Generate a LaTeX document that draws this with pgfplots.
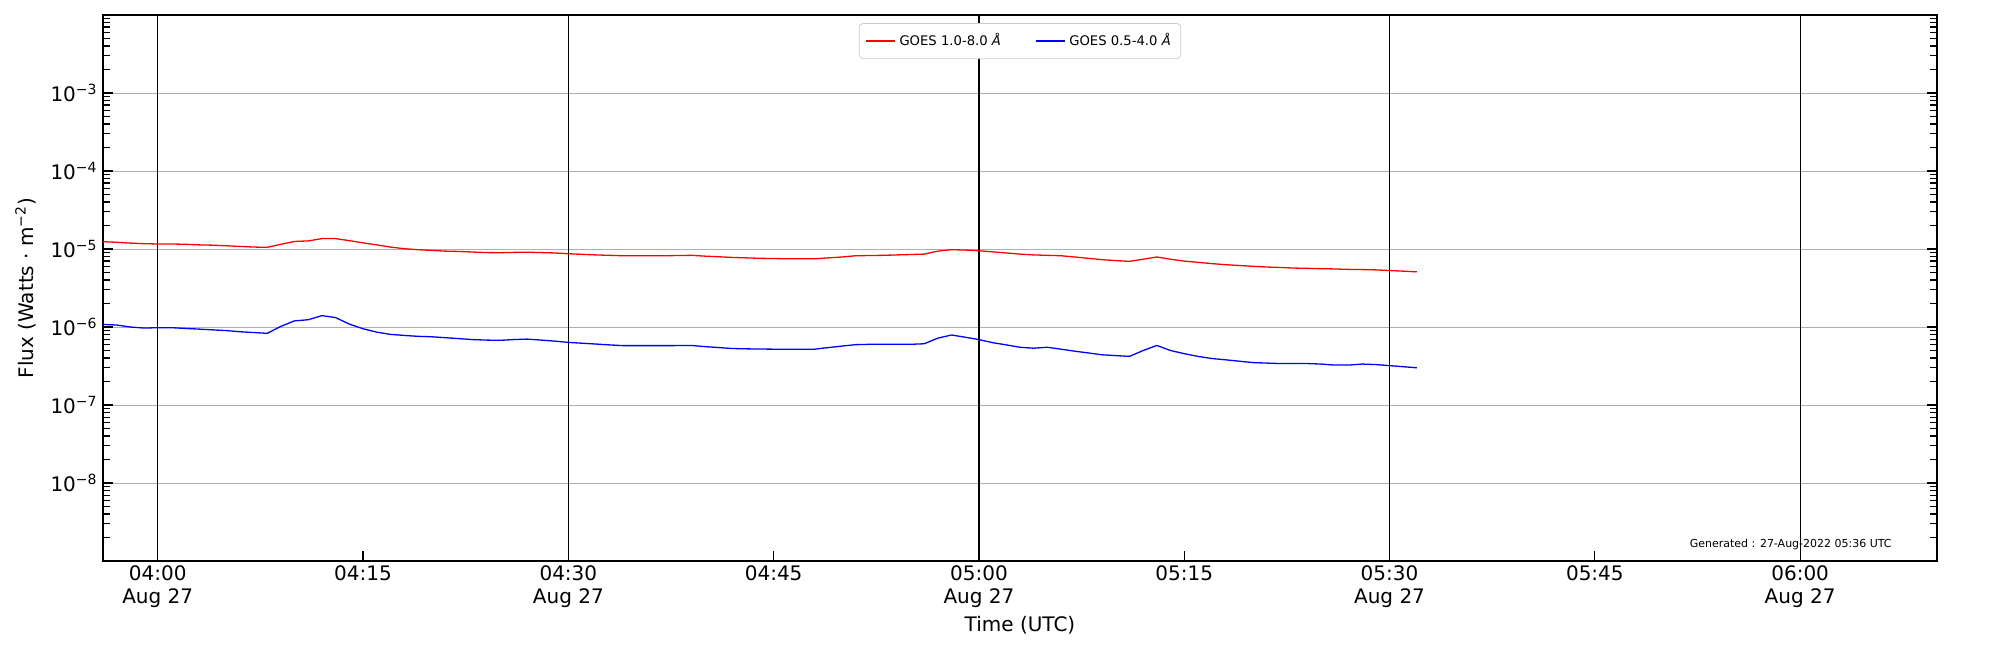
\documentclass[border=0pt]{standalone}
\usepackage{fontspec}
\setmainfont{DejaVu Sans}
\usepackage{pgfplots}
\pgfplotsset{compat=1.18}
\usepackage{pgfplotstable}
\definecolor{gridgray}{HTML}{B0B0B0}
\definecolor{leggray}{HTML}{CCCCCC}

\pgfplotstableread{
t f
-4 1.24e-5
-3 1.22e-5
-2 1.19e-5
-1 1.17e-5
0 1.16e-5
1 1.16e-5
2 1.15e-5
3 1.13e-5
4 1.12e-5
5 1.10e-5
6 1.08e-5
7 1.06e-5
8 1.05e-5
9 1.15e-5
10 1.25e-5
11 1.27e-5
12 1.36e-5
13 1.36e-5
14 1.28e-5
15 1.20e-5
16 1.13e-5
17 1.06e-5
18 1.01e-5
19 9.8e-6
20 9.6e-6
21 9.4e-6
22 9.3e-6
23 9.15e-6
24 9.0e-6
25 8.97e-6
26 9.05e-6
27 9.1e-6
28 9.0e-6
29 8.9e-6
30 8.7e-6
31 8.55e-6
32 8.4e-6
33 8.3e-6
34 8.2e-6
35 8.2e-6
36 8.2e-6
37 8.2e-6
38 8.25e-6
39 8.3e-6
40 8.1e-6
41 7.95e-6
42 7.8e-6
43 7.7e-6
44 7.6e-6
45 7.55e-6
46 7.5e-6
47 7.5e-6
48 7.5e-6
49 7.7e-6
50 7.9e-6
51 8.2e-6
52 8.25e-6
53 8.3e-6
54 8.4e-6
55 8.5e-6
56 8.6e-6
57 9.4e-6
58 9.8e-6
59 9.7e-6
60 9.5e-6
61 9.2e-6
62 8.9e-6
63 8.6e-6
64 8.4e-6
65 8.3e-6
66 8.2e-6
67 7.9e-6
68 7.6e-6
69 7.3e-6
70 7.1e-6
71 6.95e-6
72 7.4e-6
73 7.9e-6
74 7.4e-6
75 7.0e-6
76 6.75e-6
77 6.5e-6
78 6.3e-6
79 6.15e-6
80 6.0e-6
81 5.88e-6
82 5.8e-6
83 5.7e-6
84 5.65e-6
85 5.6e-6
86 5.55e-6
87 5.48e-6
88 5.45e-6
89 5.4e-6
90 5.3e-6
91 5.2e-6
92 5.1e-6
}\longdata

\pgfplotstableread{
t f
-4 1.08e-6
-3 1.06e-6
-2 1.0e-6
-1 9.7e-7
0 9.8e-7
1 9.8e-7
2 9.6e-7
3 9.4e-7
4 9.2e-7
5 9.0e-7
6 8.7e-7
7 8.5e-7
8 8.3e-7
9 1.02e-6
10 1.2e-6
11 1.24e-6
12 1.40e-6
13 1.32e-6
14 1.09e-6
15 9.5e-7
16 8.6e-7
17 8.05e-7
18 7.8e-7
19 7.6e-7
20 7.5e-7
21 7.3e-7
22 7.1e-7
23 6.9e-7
24 6.8e-7
25 6.75e-7
26 6.9e-7
27 7.0e-7
28 6.8e-7
29 6.6e-7
30 6.35e-7
31 6.2e-7
32 6.05e-7
33 5.9e-7
34 5.77e-7
35 5.77e-7
36 5.77e-7
37 5.77e-7
38 5.78e-7
39 5.8e-7
40 5.6e-7
41 5.45e-7
42 5.3e-7
43 5.25e-7
44 5.22e-7
45 5.2e-7
46 5.2e-7
47 5.2e-7
48 5.2e-7
49 5.45e-7
50 5.7e-7
51 5.94e-7
52 6.0e-7
53 6.0e-7
54 6.0e-7
55 6.0e-7
56 6.1e-7
57 7.2e-7
58 7.9e-7
59 7.4e-7
60 6.9e-7
61 6.3e-7
62 5.9e-7
63 5.5e-7
64 5.35e-7
65 5.5e-7
66 5.2e-7
67 4.9e-7
68 4.65e-7
69 4.4e-7
70 4.3e-7
71 4.2e-7
72 5.0e-7
73 5.8e-7
74 5.0e-7
75 4.55e-7
76 4.2e-7
77 3.95e-7
78 3.8e-7
79 3.65e-7
80 3.5e-7
81 3.45e-7
82 3.4e-7
83 3.4e-7
84 3.4e-7
85 3.35e-7
86 3.25e-7
87 3.25e-7
88 3.35e-7
89 3.3e-7
90 3.2e-7
91 3.1e-7
92 3.0e-7
}\shortdata

\begin{document}
\begin{tikzpicture}
\useasboundingbox (0,0) rectangle (1000pt,325pt);
\begin{axis}[
  at={(51.5pt,44.5pt)}, anchor=south west,
  width=917pt, height=273pt, scale only axis,
  ymode=log,
  xmin=-4, xmax=130, ymin=1e-9, ymax=1e-2,
  axis line style={line width=0.7pt},
  tick align=inside,
  xtick pos=left, ytick pos=both,
  tick style={black, line width=0.6pt},
  major tick length=5pt, minor tick length=3.5pt,
  xtick={0,15,...,120},
  xticklabels={{04:00\\Aug 27},04:15,{04:30\\Aug 27},04:45,{05:00\\Aug 27},05:15,{05:30\\Aug 27},05:45,{06:00\\Aug 27}},
  xticklabel style={align=center, font=\fontsize{10}{11.7}\selectfont, inner sep=2pt},
  extra x ticks={0,30,60,90,120},
  extra x tick labels={},
  extra x tick style={grid=major, major grid style={black, line width=0.6pt}},
  ytick={1e-8,1e-7,1e-6,1e-5,1e-4,1e-3},
  yticklabels={10\textsuperscript{−8},10\textsuperscript{−7},10\textsuperscript{−6},10\textsuperscript{−5},10\textsuperscript{−4},10\textsuperscript{−3}},
  minor ytick={2e-9,3e-9,4e-9,5e-9,6e-9,7e-9,8e-9,9e-9,
    2e-8,3e-8,4e-8,5e-8,6e-8,7e-8,8e-8,9e-8,
    2e-7,3e-7,4e-7,5e-7,6e-7,7e-7,8e-7,9e-7,
    2e-6,3e-6,4e-6,5e-6,6e-6,7e-6,8e-6,9e-6,
    2e-5,3e-5,4e-5,5e-5,6e-5,7e-5,8e-5,9e-5,
    2e-4,3e-4,4e-4,5e-4,6e-4,7e-4,8e-4,9e-4,
    2e-3,3e-3,4e-3,5e-3,6e-3,7e-3,8e-3,9e-3},
  yticklabel style={font=\fontsize{10}{12}\selectfont, inner sep=2.5pt},
  ymajorgrids,
  major grid style={gridgray, line width=0.5pt},
  xlabel={Time (UTC)},
  ylabel={Flux (Watts · m\textsuperscript{−2})},
  label style={font=\fontsize{10}{12}\selectfont},
  xlabel style={at={(axis description cs:0.5,0)}, anchor=center, yshift=-32pt},
  ylabel style={at={(axis description cs:0,0.5)}, anchor=center, yshift=38.75pt},
  legend style={at={(0.5,0.9853)}, anchor=north, legend columns=2,
    font=\fontsize{6.6}{8}\selectfont, draw=leggray, rounded corners=2pt,
    inner xsep=3pt, inner ysep=3pt,
    /tikz/every even column/.append style={column sep=15pt}},
  legend image code/.code={\draw[#1] (0pt,0pt) -- (14.5pt,0pt);},
]
\addplot[red, line width=0.65pt] table[x=t, y=f] {\longdata};
\addlegendentry{GOES 1.0-8.0 \textit{Å}}
\addplot[blue, line width=0.65pt] table[x=t, y=f] {\shortdata};
\addlegendentry{GOES 0.5-4.0 \textit{Å}}

\node[anchor=west, inner sep=0pt, xshift=2pt, font=\fontsize{10}{12}\selectfont] at (rel axis cs:1,0.7857) {X};
\node[anchor=west, inner sep=0pt, xshift=2pt, font=\fontsize{10}{12}\selectfont] at (rel axis cs:1,0.6429) {M};
\node[anchor=west, inner sep=0pt, xshift=2pt, font=\fontsize{10}{12}\selectfont] at (rel axis cs:1,0.5) {C};
\node[anchor=west, inner sep=0pt, xshift=2pt, font=\fontsize{10}{12}\selectfont] at (rel axis cs:1,0.3571) {B};
\node[anchor=west, inner sep=0pt, xshift=2pt, font=\fontsize{10}{12}\selectfont] at (rel axis cs:1,0.2143) {A};
\node[rotate=90, font=\fontsize{10}{12}\selectfont] at ([xshift=19pt]rel axis cs:1,0.5) {GOES Class};
\node[anchor=east, inner sep=0pt, font=\fontsize{5.5}{6.5}\selectfont] at (rel axis cs:0.9755,0.031) {Generated : 27-Aug-2022 05:36 UTC};
\end{axis}
\end{tikzpicture}
\end{document}
